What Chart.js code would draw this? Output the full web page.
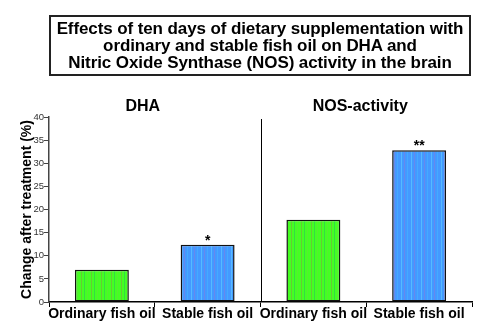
<!DOCTYPE html>
<html>
<head>
<meta charset="utf-8">
<script src="https://cdn.jsdelivr.net/npm/chart.js@4.4.1/dist/chart.umd.min.js"></script>
<style>
  html, body { margin: 0; padding: 0; background: #fff; }
  #wrap { position: relative; width: 489px; height: 332px; }
  #heading {
    position: absolute; left: 49px; top: 15px; width: 418px; height: 54px;
    border: 2px solid #222; box-sizing: content-box;
    font: bold 17px "Liberation Sans", Arial, sans-serif; line-height: 17px;
    text-align: center; padding-top: 3px; color: #000; letter-spacing: -0.1px;
  }
  canvas { position: absolute; left: 0; top: 0; }
</style>
</head>
<body>
<div id="wrap">
  <canvas id="chart" width="489" height="332"></canvas>
  <div id="heading">Effects of ten days of dietary supplementation with<br>ordinary and stable fish oil on DHA and<br>Nitric Oxide Synthase (NOS) activity in the brain</div>
</div>
<script>
const categories = ['Ordinary fish oil', 'Stable fish oil', 'Ordinary fish oil', 'Stable fish oil'];
const values = [7.0, 12.4, 17.8, 32.8];
const panels = ['DHA', 'NOS-activity'];
const stars = ['', '*', '', '**'];
const yTicks = [0, 5, 10, 15, 20, 25, 30, 35, 40];

const FONT = '"Liberation Sans", Arial, sans-serif';

// vertical striped fills for the bars
function stripes(base, lines) {
  let c = document.createElement('canvas');
  c.width = 10; c.height = 4;
  let g = c.getContext('2d');
  g.fillStyle = base;
  g.fillRect(0, 0, 10, 4);
  lines.forEach(function(l) {
    g.fillStyle = l[1];
    g.fillRect(l[0], 0, 1, 4);
  });
  return g.createPattern(c, 'repeat');
}
const ctx0 = document.getElementById('chart').getContext('2d');
const green = stripes('#44ff22', [[1, '#66cc33'], [4, '#33dd44'], [7, '#55ee30']]);
const blue = stripes('#4499ff', [[1, '#55bbff'], [4, '#6688ee'], [7, '#44aaff']]);

const panelPlugin = {
  id: 'panels',
  afterDraw(chart) {
    const ctx = chart.ctx, xs = chart.scales.x, ys = chart.scales.y, area = chart.chartArea;
    ctx.save();
    // divider between the two panels
    let mid = (xs.getPixelForValue(1) + xs.getPixelForValue(2)) / 2;
    ctx.strokeStyle = '#000';
    ctx.lineWidth = 1;
    ctx.beginPath();
    ctx.moveTo(Math.round(mid) + 0.5, area.top + 2);
    ctx.lineTo(Math.round(mid) + 0.5, area.bottom);
    ctx.stroke();
    // panel titles, a little left of each panel's centre
    ctx.fillStyle = '#000';
    ctx.font = 'bold 16px ' + FONT;
    ctx.textAlign = 'center';
    ctx.textBaseline = 'middle';
    panels.forEach(function(p, i) {
      let cx = (xs.getPixelForValue(i * 2) + xs.getPixelForValue(i * 2 + 1)) / 2;
      ctx.fillText(p, cx - (i ? 6 : 12), 107);
    });
    // significance marks
    ctx.font = 'bold 14px ' + FONT;
    stars.forEach(function(s, i) {
      if (!s) return;
      ctx.fillText(s, xs.getPixelForValue(i), ys.getPixelForValue(values[i]) - 4);
    });
    ctx.restore();
  }
};

new Chart(ctx0, {
  type: 'bar',
  data: {
    labels: categories,
    datasets: [{
      data: values,
      backgroundColor: [green, blue, green, blue],
      borderColor: '#111',
      borderWidth: 1.5,
      borderSkipped: false,
      barPercentage: 0.51,
      categoryPercentage: 1
    }]
  },
  options: {
    responsive: false,
    animation: false,
    events: [],
    layout: { padding: { top: 117, right: 17, left: 10, bottom: 0 } },
    plugins: { legend: { display: false }, tooltip: { enabled: false } },
    scales: {
      x: {
        afterFit(scale) { scale.height = 30; scale.paddingLeft = 0; scale.paddingRight = 0; },
        grid: { drawOnChartArea: false, color: '#000', tickLength: 5, lineWidth: 1 },
        border: { color: '#000', width: 1.5 },
        ticks: {
          color: '#000', padding: -1, maxRotation: 0, minRotation: 0, autoSkip: false,
          font: { family: FONT, size: 14, weight: 'bold' }
        }
      },
      y: {
        min: 0, max: 40,
        afterBuildTicks(scale) { scale.ticks = yTicks.map(v => ({ value: v })); },
        afterFit(scale) { scale.width = 39; },
        grid: { drawOnChartArea: false, color: '#444', tickLength: 5 },
        border: { color: '#444', width: 1.5 },
        ticks: {
          color: '#333', padding: 0,
          font: { family: FONT, size: 9.5 }
        },
        title: {
          display: true, text: 'Change after treatment (%)', color: '#000',
          padding: { top: 9, bottom: 0 },
          font: { family: FONT, size: 14, weight: 'bold' }
        }
      }
    }
  },
  plugins: [panelPlugin]
});
</script>
</body>
</html>
